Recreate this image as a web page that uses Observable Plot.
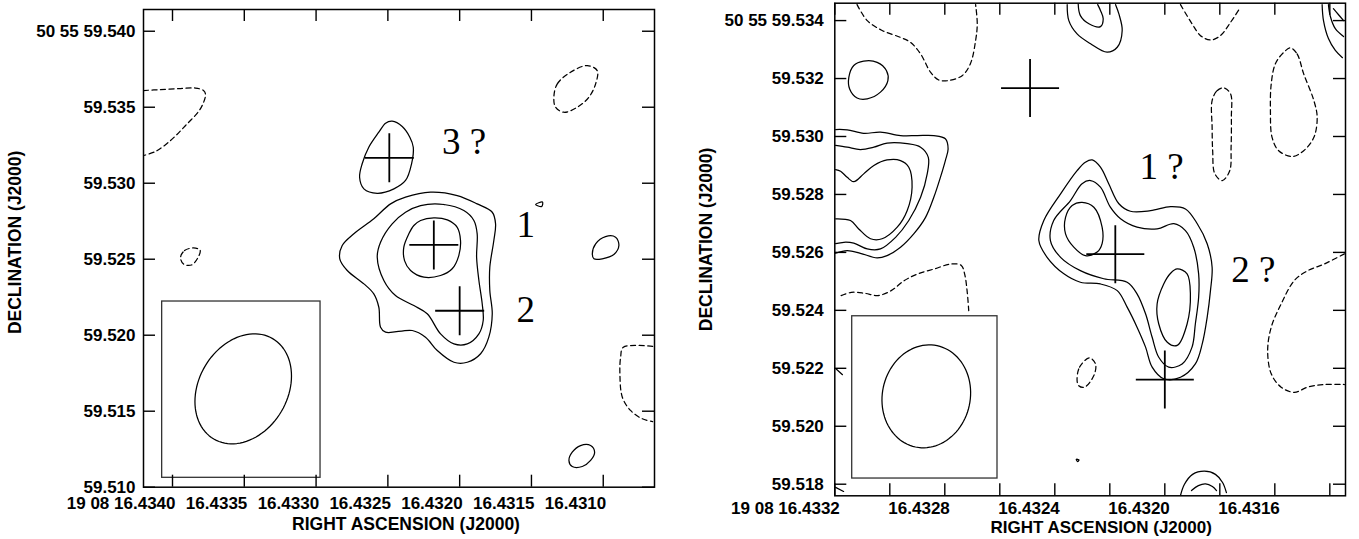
<!DOCTYPE html>
<html><head><meta charset="utf-8">
<script src="https://cdn.jsdelivr.net/npm/d3@7"></script>
<script src="https://cdn.jsdelivr.net/npm/@observablehq/plot@0.6"></script>
<style>
html,body{margin:0;padding:0;background:#fff;}
#wrap{position:relative;width:1359px;height:539px;overflow:hidden;background:#fff;}
#wrap svg{position:absolute;top:0;}
</style></head><body><div id="wrap"></div>
<script>
// ---------------- DATA: left panel (RA in s of time, Dec in arcsec) ----------------
const L_xDomain = [16.434202, 16.430643];
const L_yDomain = [59.5100, 59.54143];
const L_xTicks = [16.4340, 16.4335, 16.4330, 16.4325, 16.4320, 16.4315, 16.4310];
const L_xLabels = ["19 08 16.4340", "16.4335", "16.4330", "16.4325", "16.4320", "16.4315", "16.4310"];
const L_yTicks = [59.510, 59.515, 59.520, 59.525, 59.530, 59.535, 59.540];
const L_yLabels = ["59.510", "59.515", "59.520", "59.525", "59.530", "59.535", "50 55 59.540"];

const L_negNW = [[16.434202,59.53610],[16.434084,59.53616],[16.433944,59.53623],[16.433840,59.53626],[16.433784,59.53610],[16.433770,59.53584],[16.433805,59.53491],[16.433909,59.53380],[16.434014,59.53281],[16.434118,59.53209],[16.434202,59.53182]];
const L_negW = [[16.433944,59.52511],[16.433916,59.52557],[16.433854,59.52574],[16.433808,59.52560],[16.433826,59.52505],[16.433868,59.52462],[16.433923,59.52468]];
const L_negNE = [[16.431344,59.53566],[16.431320,59.53654],[16.431228,59.53730],[16.431111,59.53774],[16.431042,59.53741],[16.431053,59.53654],[16.431100,59.53566],[16.431181,59.53500],[16.431274,59.53467],[16.431332,59.53500]];
const L_negSE = [[16.430656,59.51926],[16.430860,59.51921],[16.430879,59.51855],[16.430884,59.51746],[16.430867,59.51592],[16.430810,59.51505],[16.430728,59.51450],[16.430656,59.51432]];
const L_src3 = [[16.432470,59.53408],[16.432400,59.53373],[16.432347,59.53303],[16.432323,59.53237],[16.432335,59.53128],[16.432377,59.53018],[16.432458,59.52963],[16.432574,59.52934],[16.432667,59.52963],[16.432697,59.53039],[16.432679,59.53128],[16.432633,59.53237],[16.432563,59.53336],[16.432516,59.53395]];
const L_tiny = [[16.431471,59.52860],[16.431423,59.52876],[16.431429,59.52847]];
const L_blobE = [[16.431076,59.52536],[16.431053,59.52601],[16.430984,59.52649],[16.430914,59.52645],[16.430891,59.52590],[16.430926,59.52531],[16.431007,59.52503],[16.431065,59.52503]];
const L_blobS = [[16.431239,59.51176],[16.431216,59.51230],[16.431158,59.51274],[16.431088,59.51274],[16.431060,59.51230],[16.431088,59.51176],[16.431146,59.51136],[16.431216,59.51136]];
const L_outer = [[16.432377,59.52908],[16.432203,59.52941],[16.432017,59.52919],[16.431878,59.52864],[16.431773,59.52809],[16.431750,59.52733],[16.431762,59.52623],[16.431790,59.52447],[16.431790,59.52294],[16.431773,59.52141],[16.431797,59.51987],[16.431854,59.51878],[16.431947,59.51822],[16.432040,59.51822],[16.432156,59.51899],[16.432238,59.51987],[16.432330,59.52031],[16.432516,59.52020],[16.432551,59.52053],[16.432563,59.52184],[16.432598,59.52272],[16.432667,59.52338],[16.432783,59.52426],[16.432835,59.52503],[16.432818,59.52590],[16.432737,59.52667],[16.432598,59.52766],[16.432481,59.52864]];
const L_mid = [[16.432272,59.52853],[16.432110,59.52860],[16.431971,59.52820],[16.431901,59.52755],[16.431878,59.52667],[16.431882,59.52513],[16.431866,59.52360],[16.431843,59.52207],[16.431836,59.52097],[16.431866,59.52009],[16.431947,59.51943],[16.432040,59.51943],[16.432133,59.52009],[16.432226,59.52141],[16.432319,59.52195],[16.432447,59.52261],[16.432528,59.52360],[16.432574,59.52513],[16.432551,59.52612],[16.432470,59.52733],[16.432377,59.52809]];
const L_inner = [[16.432272,59.52755],[16.432180,59.52772],[16.432086,59.52759],[16.432017,59.52710],[16.431994,59.52623],[16.432006,59.52524],[16.432052,59.52437],[16.432133,59.52393],[16.432249,59.52382],[16.432342,59.52426],[16.432384,59.52491],[16.432389,59.52579],[16.432354,59.52667],[16.432319,59.52722]];
const L_beamBox = [16.434072, 16.432969, 59.510618, 59.522217];
const L_beam = {ra: 16.4335075, dec: 59.516474, a: 0.003829, b: 0.002921, pa: -30.4};
const L_labelText = ["3 ?", "1", "2"];
const L_labelRA = [16.432123, 16.431604, 16.431604];
const L_labelDec = [59.53195, 59.52643, 59.52086];

// ---------------- DATA: right panel ----------------
const R_xDomain = [16.4332, 16.431343];
const R_yDomain = [59.5176, 59.5346];
const R_xTicks = [16.4332, 16.4330, 16.4328, 16.4326, 16.4324, 16.4322, 16.4320, 16.4318, 16.4316, 16.4314];
const R_xLabelTicks = [16.4332, 16.4328, 16.4324, 16.4320, 16.4316];
const R_xLabels = ["19 08 16.4332", "16.4328", "16.4324", "16.4320", "16.4316"];
const R_yTicks = [59.518, 59.520, 59.522, 59.524, 59.526, 59.528, 59.530, 59.532, 59.534];
const R_yLabels = ["59.518", "59.520", "59.522", "59.524", "59.526", "59.528", "59.530", "59.532", "50 55 59.534"];

const R_blobNW = [[16.433149,59.53204],[16.433131,59.53245],[16.433095,59.53260],[16.433046,59.53256],[16.433012,59.53227],[16.433007,59.53193],[16.433034,59.53153],[16.433082,59.53130],[16.433119,59.53133],[16.433146,59.53164]];
const R_negN = [[16.433119,59.53455],[16.433082,59.53400],[16.433028,59.53366],[16.432961,59.53342],[16.432925,59.53325],[16.432888,59.53285],[16.432852,59.53222],[16.432822,59.53195],[16.432786,59.53193],[16.432737,59.53210],[16.432707,59.53251],[16.432688,59.53331],[16.432682,59.53389],[16.432688,59.53455]];
const R_W1 = [[16.433197,59.53024],[16.433155,59.53023],[16.433095,59.53011],[16.433034,59.53015],[16.432961,59.53003],[16.432900,59.53003],[16.432840,59.53003],[16.432798,59.52992],[16.432788,59.52957],[16.432798,59.52917],[16.432816,59.52859],[16.432840,59.52790],[16.432870,59.52721],[16.432913,59.52664],[16.432961,59.52618],[16.433010,59.52589],[16.433046,59.52581],[16.433107,59.52597],[16.433155,59.52606],[16.433197,59.52597]];
const R_W2 = [[16.433197,59.52969],[16.433155,59.52963],[16.433107,59.52955],[16.433058,59.52963],[16.433010,59.52977],[16.432937,59.52975],[16.432888,59.52963],[16.432860,59.52928],[16.432864,59.52871],[16.432888,59.52790],[16.432931,59.52710],[16.432979,59.52652],[16.433034,59.52612],[16.433082,59.52612],[16.433131,59.52632],[16.433167,59.52635],[16.433197,59.52630]];
const R_W3 = [[16.433197,59.52886],[16.433179,59.52880],[16.433155,59.52859],[16.433131,59.52844],[16.433095,59.52871],[16.433058,59.52900],[16.433010,59.52919],[16.432961,59.52917],[16.432931,59.52894],[16.432919,59.52825],[16.432937,59.52744],[16.432973,59.52687],[16.433028,59.52647],[16.433070,59.52647],[16.433113,59.52681],[16.433143,59.52710],[16.433197,59.52716]];
const R_negSW = [[16.433177,59.52451],[16.433140,59.52462],[16.433092,59.52459],[16.433044,59.52451],[16.432995,59.52468],[16.432947,59.52503],[16.432898,59.52526],[16.432838,59.52543],[16.432777,59.52560],[16.432740,59.52555],[16.432728,59.52526],[16.432719,59.52468],[16.432713,59.52399]];
const R_edge1 = [[16.433197,59.52199],[16.433172,59.52178]];
const R_edge2 = [[16.433197,59.51789],[16.433168,59.51775]];
const R_outer = [[16.432264,59.52919],[16.432234,59.52894],[16.432204,59.52837],[16.432167,59.52768],[16.432125,59.52742],[16.432052,59.52744],[16.431979,59.52758],[16.431925,59.52750],[16.431882,59.52699],[16.431846,59.52630],[16.431828,59.52549],[16.431834,59.52468],[16.431846,59.52376],[16.431864,59.52284],[16.431889,59.52215],[16.431943,59.52169],[16.432004,59.52164],[16.432046,59.52204],[16.432070,59.52273],[16.432101,59.52342],[16.432137,59.52411],[16.432173,59.52468],[16.432234,59.52491],[16.432307,59.52497],[16.432367,59.52526],[16.432428,59.52583],[16.432458,59.52641],[16.432440,59.52710],[16.432379,59.52802],[16.432319,59.52882],[16.432289,59.52911]];
const R_mid = [[16.432270,59.52848],[16.432234,59.52825],[16.432198,59.52756],[16.432161,59.52716],[16.432101,59.52687],[16.432028,59.52681],[16.431967,59.52699],[16.431925,59.52675],[16.431895,59.52618],[16.431877,59.52526],[16.431877,59.52445],[16.431889,59.52353],[16.431901,59.52273],[16.431937,59.52215],[16.431986,59.52204],[16.432022,59.52238],[16.432046,59.52307],[16.432070,59.52388],[16.432101,59.52457],[16.432137,59.52497],[16.432222,59.52509],[16.432307,59.52537],[16.432379,59.52583],[16.432416,59.52641],[16.432404,59.52710],[16.432343,59.52779],[16.432301,59.52837]];
const R_in1 = [[16.432301,59.52773],[16.432258,59.52756],[16.432228,59.52687],[16.432228,59.52630],[16.432246,59.52601],[16.432289,59.52589],[16.432331,59.52618],[16.432361,59.52664],[16.432361,59.52721],[16.432337,59.52762]];
const R_in2 = [[16.431955,59.52543],[16.431919,59.52526],[16.431907,59.52457],[16.431919,59.52353],[16.431955,59.52279],[16.431991,59.52290],[16.432022,59.52353],[16.432028,59.52422],[16.432004,59.52491],[16.431979,59.52528]];
const R_negS = [[16.432319,59.52158],[16.432310,59.52204],[16.432274,59.52236],[16.432252,59.52215],[16.432258,59.52175],[16.432292,59.52135],[16.432313,59.52140]];
const R_speck = [[16.432322,59.51886],[16.432312,59.51884],[16.432317,59.51878]];
const R_arcS1 = [[16.431943,59.51761],[16.431929,59.51799],[16.431899,59.51834],[16.431856,59.51845],[16.431816,59.51834],[16.431790,59.51806],[16.431776,59.51771]];
const R_arcS2 = [[16.431903,59.51778],[16.431878,59.51795],[16.431852,59.51801],[16.431827,59.51792],[16.431812,59.51778]];
const R_negE = [[16.431347,59.52595],[16.431420,59.52560],[16.431480,59.52537],[16.431529,59.52503],[16.431577,59.52422],[16.431613,59.52342],[16.431626,59.52261],[16.431613,59.52181],[16.431577,59.52135],[16.431529,59.52117],[16.431480,59.52135],[16.431420,59.52144],[16.431347,59.52144]];
const R_arcN1 = [[16.432355,59.53455],[16.432349,59.53400],[16.432319,59.53354],[16.432270,59.53320],[16.432210,59.53291],[16.432173,59.53308],[16.432155,59.53366],[16.432167,59.53423],[16.432179,59.53455]];
const R_arcN2 = [[16.432315,59.53458],[16.432307,59.53417],[16.432276,59.53389],[16.432234,59.53379],[16.432224,59.53406],[16.432234,59.53435],[16.432244,59.53455]];
const R_negNV = [[16.431943,59.53455],[16.431901,59.53389],[16.431870,59.53348],[16.431834,59.53333],[16.431798,59.53348],[16.431761,59.53394],[16.431731,59.53437]];
const R_arcNE1 = [[16.431428,59.53455],[16.431423,59.53400],[16.431405,59.53338],[16.431380,59.53297],[16.431354,59.53272]];
const R_arcNE2 = [[16.431405,59.53455],[16.431398,59.53414],[16.431380,59.53372],[16.431350,59.53345]];
const R_arcNE3 = [[16.431387,59.53441],[16.431369,59.53421],[16.431350,59.53400]];
const R_negNE1 = [[16.431543,59.53306],[16.431519,59.53285],[16.431495,59.53216],[16.431458,59.53124],[16.431446,59.53066],[16.431458,59.52997],[16.431495,59.52951],[16.431537,59.52931],[16.431586,59.52951],[16.431610,59.52997],[16.431616,59.53089],[16.431613,59.53182],[16.431598,59.53251],[16.431567,59.53291]];
const R_negNE2 = [[16.431828,59.53124],[16.431810,59.53158],[16.431786,59.53168],[16.431761,59.53147],[16.431758,59.53066],[16.431759,59.52963],[16.431764,59.52882],[16.431791,59.52848],[16.431818,59.52871],[16.431826,59.52951],[16.431828,59.53032]];
const R_beamBox = [16.4331367, 16.4326084, 59.518196, 59.523796];
const R_beam = {ra: 16.4328673, dec: 59.521032, a: 0.001787, b: 0.001511, pa: -12};
const R_labelText = ["1 ?", "2 ?"];
const R_labelRA = [16.432092, 16.431758];
const R_labelDec = [59.52855, 59.52499];

// source positions (crosses), shared by both panels
const srcRA = [16.43249, 16.43218, 16.43200];
const srcDec = [59.53167, 59.52594, 59.52161];
const DEC0 = 50.9332; // degrees, for RA/Dec aspect of the beam

// ---------------- drawing ----------------
const plusSymbol = {
  draw(ctx, size) {
    const r = Math.sqrt(size / Math.PI);
    ctx.moveTo(-r, 0); ctx.lineTo(r, 0);
    ctx.moveTo(0, -r); ctx.lineTo(0, r);
  }
};

function beamPts(b) {
  const pts = [], k = 15 * Math.cos(DEC0 * Math.PI / 180), pa = b.pa * Math.PI / 180;
  for (let i = 0; i < 96; i++) {
    const t = 2 * Math.PI * i / 96, u = b.a * Math.cos(t), v = b.b * Math.sin(t);
    const north = u * Math.cos(pa) - v * Math.sin(pa);
    const east = u * Math.sin(pa) + v * Math.cos(pa);
    pts.push([b.ra + east / k, b.dec + north]);
  }
  return pts;
}

function panel(p) {
  const innerW = p.width - p.ml - p.mr, innerH = p.height - p.mt - p.mb;
  const marks = [];
  for (const c of p.contours) {
    marks.push(Plot.line(c.pts, {
      x: d => d[0], y: d => d[1],
      curve: c.closed ? "catmull-rom-closed" : "catmull-rom",
      stroke: "black", strokeWidth: 1.25, clip: true,
      strokeDasharray: c.dashed ? "5,3.5" : null
    }));
  }
  marks.push(Plot.rect([p.box], {x1: d => d[0], x2: d => d[1], y1: d => d[2], y2: d => d[3], fill: "white", stroke: "#333", strokeWidth: 1.3}));
  marks.push(Plot.line(beamPts(p.beam), {x: d => d[0], y: d => d[1], curve: "linear-closed", stroke: "black", strokeWidth: 1.25}));
  marks.push(Plot.dot(srcRA.map((ra, i) => [ra, srcDec[i]]), {x: d => d[0], y: d => d[1], symbol: plusSymbol, r: p.crossR, fill: "none", stroke: "black", strokeWidth: 1.8}));
  marks.push(Plot.text(p.labelText.map((t, i) => ({t, ra: p.labelRA[i], dec: p.labelDec[i]})), {
    x: "ra", y: "dec", text: "t", textAnchor: "start", lineAnchor: "bottom",
    fontFamily: "'Liberation Serif', 'Times New Roman', serif", fontSize: 37, fontWeight: "normal", fill: "black"
  }));
  marks.push(Plot.frame({stroke: "black", strokeWidth: 1.5}));
  const tk = 12;
  marks.push(Plot.tickX(p.xTicks, {x: d => d, insetTop: innerH - tk, stroke: "black", strokeWidth: 1.4}));
  marks.push(Plot.tickX(p.xTicks, {x: d => d, insetBottom: innerH - tk, stroke: "black", strokeWidth: 1.4}));
  marks.push(Plot.tickY(p.yTicks, {y: d => d, insetRight: innerW - tk, stroke: "black", strokeWidth: 1.4}));
  marks.push(Plot.tickY(p.yTicks, {y: d => d, insetLeft: innerW - tk, stroke: "black", strokeWidth: 1.4}));
  const font = "'Liberation Sans', Arial, Helvetica, sans-serif";
  marks.push(Plot.text(p.xLabelTicks.map((v, i) => ({v, s: p.xLabels[i]})), {
    x: "v", text: "s", frameAnchor: "bottom", textAnchor: "end", lineAnchor: "bottom",
    dx: p.xlabDx, dy: p.xlabDy, fontFamily: font, fontSize: 17, fontWeight: "bold", fill: "black"
  }));
  marks.push(Plot.text(p.yTicks.map((v, i) => ({v, s: p.yLabels[i]})), {
    y: "v", text: "s", frameAnchor: "left", textAnchor: "end", lineAnchor: "middle",
    dx: p.ylabDx, fontFamily: font, fontSize: 17, fontWeight: "bold", fill: "black"
  }));
  marks.push(Plot.text(["RIGHT ASCENSION (J2000)"], {
    frameAnchor: "bottom", textAnchor: "middle", lineAnchor: "bottom", dx: p.xtDx, dy: p.xtDy,
    fontFamily: font, fontSize: p.xtSize, fontWeight: "bold", fill: "black"
  }));
  marks.push(Plot.text(["DECLINATION (J2000)"], {
    frameAnchor: "left", textAnchor: "middle", lineAnchor: "middle", rotate: -90, dx: p.ytDx, dy: p.ytDy,
    fontFamily: font, fontSize: 17.5, fontWeight: "bold", fill: "black"
  }));
  const svg = Plot.plot({
    width: p.width, height: p.height,
    marginLeft: p.ml, marginRight: p.mr, marginTop: p.mt, marginBottom: p.mb,
    x: {domain: p.xDomain, axis: null},
    y: {domain: p.yDomain, axis: null},
    style: {background: "white", overflow: "visible"},
    marks
  });
  svg.style.left = p.left + "px";
  return svg;
}

const wrap = document.getElementById("wrap");
wrap.appendChild(panel({
  left: 0, width: 680, height: 539, ml: 143, mr: 26, mt: 9, mb: 52.3,
  xDomain: L_xDomain, yDomain: L_yDomain,
  xTicks: L_xTicks, xLabelTicks: L_xTicks, xLabels: L_xLabels, yTicks: L_yTicks, yLabels: L_yLabels,
  contours: [
    {pts: L_negNW, dashed: true, closed: false},
    {pts: L_negW, dashed: true, closed: true},
    {pts: L_negNE, dashed: true, closed: true},
    {pts: L_negSE, dashed: true, closed: false},
    {pts: L_src3, dashed: false, closed: true},
    {pts: L_tiny, dashed: false, closed: true},
    {pts: L_blobE, dashed: false, closed: true},
    {pts: L_blobS, dashed: false, closed: true},
    {pts: L_outer, dashed: false, closed: true},
    {pts: L_mid, dashed: false, closed: true},
    {pts: L_inner, dashed: false, closed: true}
  ],
  box: L_beamBox, beam: L_beam, crossR: 24.5,
  labelText: L_labelText, labelRA: L_labelRA, labelDec: L_labelDec,
  xlabDx: 3, xlabDy: 21.8, ylabDx: -8, xtDx: 7, xtDy: 43, xtSize: 17.5, ytDx: -128, ytDy: -6
}));
wrap.appendChild(panel({
  left: 680, width: 679, height: 539, ml: 154.3, mr: 14, mt: 2.7, mb: 43.7,
  xDomain: R_xDomain, yDomain: R_yDomain,
  xTicks: R_xTicks, xLabelTicks: R_xLabelTicks, xLabels: R_xLabels, yTicks: R_yTicks, yLabels: R_yLabels,
  contours: [
    {pts: R_blobNW, dashed: false, closed: true},
    {pts: R_negN, dashed: true, closed: false},
    {pts: R_W1, dashed: false, closed: false},
    {pts: R_W2, dashed: false, closed: false},
    {pts: R_W3, dashed: false, closed: false},
    {pts: R_negSW, dashed: true, closed: false},
    {pts: R_edge1, dashed: false, closed: false},
    {pts: R_edge2, dashed: false, closed: false},
    {pts: R_outer, dashed: false, closed: true},
    {pts: R_mid, dashed: false, closed: true},
    {pts: R_in1, dashed: false, closed: true},
    {pts: R_in2, dashed: false, closed: true},
    {pts: R_negS, dashed: true, closed: true},
    {pts: R_speck, dashed: false, closed: true},
    {pts: R_arcS1, dashed: false, closed: false},
    {pts: R_arcS2, dashed: false, closed: false},
    {pts: R_negE, dashed: true, closed: false},
    {pts: R_arcN1, dashed: false, closed: false},
    {pts: R_arcN2, dashed: false, closed: false},
    {pts: R_negNV, dashed: true, closed: false},
    {pts: R_arcNE1, dashed: false, closed: false},
    {pts: R_arcNE2, dashed: false, closed: false},
    {pts: R_arcNE3, dashed: false, closed: false},
    {pts: R_negNE1, dashed: true, closed: true},
    {pts: R_negNE2, dashed: true, closed: true}
  ],
  box: R_beamBox, beam: R_beam, crossR: 29,
  labelText: R_labelText, labelRA: R_labelRA, labelDec: R_labelDec,
  xlabDx: 5, xlabDy: 17.7, ylabDx: -11, xtDx: 11, xtDy: 36.8, xtSize: 17, ytDx: -128.3, ytDy: -10
}));
</script></body></html>
